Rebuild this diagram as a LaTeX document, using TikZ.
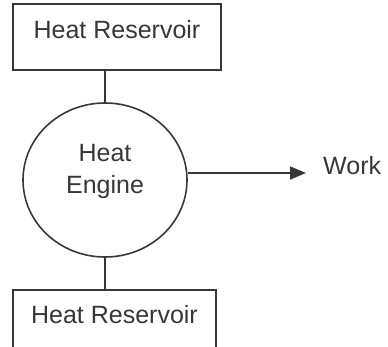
\documentclass[tikz,border=0pt]{standalone}
\usepackage{fontspec}
\setmainfont{Liberation Sans}
\usetikzlibrary{shapes.geometric,arrows.meta}
\definecolor{ink}{RGB}{55,55,55}
\begin{document}
\begin{tikzpicture}[x=1pt,y=1pt,
  every node/.style={text=ink,font=\fontsize{25}{32}\selectfont},
  boxnode/.style={draw=ink,line width=1.6pt,rectangle,inner sep=0pt,
    text height=20pt,text depth=16pt},
  engnode/.style={draw=ink,line width=1.6pt,ellipse,inner sep=0pt,
    minimum width=164pt,minimum height=154pt},
  link/.style={draw=ink,line width=1.6pt},
  flow/.style={link,-{Triangle[length=16pt,width=13pt]}}]
\useasboundingbox (0,0) rectangle (388,-347);
\node[boxnode,minimum width=208pt,minimum height=66pt] (top) at (117,-37) {Heat Reservoir};
\node[boxnode,minimum width=203pt,minimum height=62pt] (bot) at (114.5,-321) {Heat Reservoir};
\node[engnode] (eng) at (105,-180) {};
\node[align=center,inner sep=0pt] (englabel) at (105,-171) {Heat\\Engine};
\node[anchor=base west,inner sep=0pt] (work) at (323,-175) {Work};
\coordinate (tip) at (306,-173);
\draw[link] (eng.north) -- (eng.north |- top.south);
\draw[link] (eng.south) -- (eng.south |- bot.north);
\draw[flow] (eng.east |- tip) -- (tip);
\end{tikzpicture}
\end{document}
